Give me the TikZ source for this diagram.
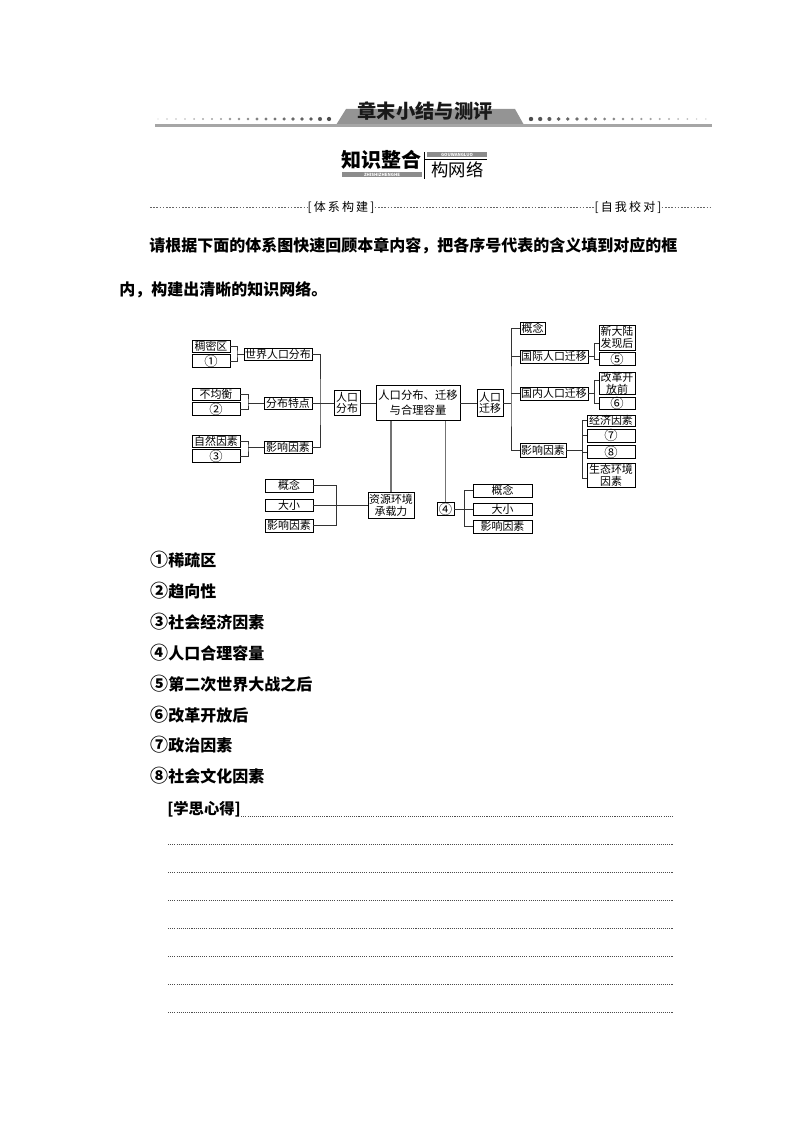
\documentclass[tikz,border=0pt]{standalone}
\usepackage{fontspec}
\setmainfont{Noto Sans CJK SC}
\newfontfamily\cjkls[LetterSpace=18]{Noto Sans CJK SC}
\usetikzlibrary{calc}
\newcommand{\cnum}[1]{{\fontsize{10}{10}\selectfont #1}}
\newcommand{\lnum}[1]{{\fontsize{13.5}{14}\selectfont #1}}
\tikzset{
  bx/.style={draw=black, line width=0.6pt, inner sep=0pt, align=center, font=\fontsize{8.2}{8.8}\selectfont},
  sz/.style n args={2}{minimum width=#1*0.75pt, minimum height=#2*0.75pt},
  ln/.style={draw=black!80, line width=0.6pt},
  vl/.style={draw=black!55, line width=0.8pt},
  dotline/.style={draw=black!70, line width=0.5pt, dash pattern=on 0.8pt off 0.8pt},
  dashline/.style={draw=black!60, line width=0.4pt, dash pattern=on 1.2pt off 1.2pt},
  para/.style={anchor=west, inner sep=0pt, font=\bfseries\fontsize{12}{14}\selectfont},
}
\begin{document}
\begin{tikzpicture}[x=0.75pt,y=-0.75pt]
\useasboundingbox (0,0) rectangle (794,1123);
% ---------- header ----------
\foreach \i in {0,...,19}{
  \pgfmathsetmacro\r{0.7+0.075*\i}
  \pgfmathsetmacro\c{20+2.6*\i}
  \fill[black!\c] (158+9*\i,119) circle[radius=\r];
  \pgfmathsetmacro\rr{2.2-0.075*\i}
  \pgfmathsetmacro\cc{70-2.6*\i}
  \fill[black!\cc] (531+9.2*\i,119) circle[radius=\rr];
}
\fill[black!42] (336,125) -- (346,109) -- (515,109) -- (524,125) -- cycle;
\draw[black!35, line width=2pt] (155,125.5) -- (712,125.5);
\node[font=\bfseries\fontsize{14.5}{16}\selectfont, text=black!90] (title) at (425,111) {章末小结与测评};
% logo
\node[inner sep=0pt, font=\bfseries\fontsize{15}{16}\selectfont] (zszh) at (381,160) {知识整合};
\fill[black!45] (342,172) rectangle (422,177.5);
\node[inner sep=0pt, text=white, font=\bfseries\fontsize{3.2}{4}\selectfont] (zsen) at (382,174.8) {ZHISHIZHENGHE};
\draw[line width=0.6pt] (424,152) -- (424,179.5);
\fill[black!45] (427,152.5) rectangle (487,157.5);
\node[inner sep=0pt, text=white, font=\bfseries\fontsize{3.2}{4}\selectfont] (gwen) at (457,155) {GOUWANGLUO};
\draw[line width=0.5pt] (424,159.5) -- (487,159.5);
\node[inner sep=0pt, font=\fontsize{13}{14}\selectfont] (gwl) at (457.5,170) {构网络};
% dashed row
\node[inner sep=0pt, font=\cjkls\fontsize{9}{10}\selectfont] (txgj) at (341,207) {[体系构建]};
\node[inner sep=0pt, font=\cjkls\fontsize{9}{10}\selectfont] (zwjd) at (628,207) {[自我校对]};
\draw[dashline] (150,207) -- (txgj.west);
\draw[dashline] (txgj.east) -- (zwjd.west);
\draw[dashline] (zwjd.east) -- (712,207);
% paragraph
\node[para] (p1) at (149,246) {请根据下面的体系图快速回顾本章内容，把各序号代表的含义填到对应的框};
\node[para] (p2) at (119,290) {内，构建出清晰的知识网络。};
% ---------- diagram ----------
% left
\node[bx, sz={38}{12}] (cmq) at (211,346) {稠密区};
\node[bx, sz={38}{12}] (q1) at (211,361) {\cnum{①}};
\node[bx, sz={68}{12}] (sjrk) at (278,354) {世界人口分布};
\node[bx, sz={48}{12}] (bjh) at (216,394) {不均衡};
\node[bx, sz={48}{12}] (q2) at (216,409) {\cnum{②}};
\node[bx, sz={48}{12}] (fbtd) at (288,403) {分布特点};
\node[bx, sz={48}{12}] (zryz) at (216,441) {自然因素};
\node[bx, sz={48}{13}] (q3) at (216,456) {\cnum{③}};
\node[bx, sz={48}{12}] (yxL) at (288,447) {影响因素};
\node[bx, sz={26}{25}] (rkfb) at (347,403) {人口\\分布};
\node[bx, sz={84}{35}, font=\fontsize{8.5}{11.5}\selectfont] (main) at (418,403) {人口分布、迁移\\与合理容量};
\node[bx, sz={26}{27}] (rkqy) at (490,403) {人口\\迁移};
% right
\node[bx, sz={25}{12}] (gn1) at (532.5,328) {概念};
\node[bx, sz={68}{13}] (gjqy) at (554,356.5) {国际人口迁移};
\node[bx, sz={36}{25}] (xdl) at (617,337.5) {新大陆\\发现后};
\node[bx, sz={36}{12}] (q5) at (617,359) {\cnum{⑤}};
\node[bx, sz={68}{13}] (gnqy) at (554,393.5) {国内人口迁移};
\node[bx, sz={36}{22}] (ggkf) at (617,383) {改革开\\放前};
\node[bx, sz={36}{11}] (q6) at (617,403.5) {\cnum{⑥}};
\node[bx, sz={46}{14}] (yxR) at (543,450) {影响因素};
\node[bx, sz={48}{11}] (jjys) at (611,420.5) {经济因素};
\node[bx, sz={48}{13}] (q7) at (611,435.5) {\cnum{⑦}};
\node[bx, sz={48}{12}] (q8) at (611,452) {\cnum{⑧}};
\node[bx, sz={48}{24}] (sths) at (611,475) {生态环境\\因素};
% bottom
\node[bx, sz={46}{26}] (zy) at (391,505) {资源环境\\承载力};
\node[bx, sz={48}{13}] (gnL) at (289,485.5) {概念};
\node[bx, sz={48}{12}] (dxL) at (289,505) {大小};
\node[bx, sz={48}{13}] (yxL2) at (289,525.5) {影响因素};
\node[bx, sz={17}{12}] (q4) at (445.5,509) {\cnum{④}};
\node[bx, sz={59}{13}] (gnR) at (502.5,490.5) {概念};
\node[bx, sz={59}{12}] (dxR) at (502.5,509) {大小};
\node[bx, sz={59}{13}] (yxR2) at (502.5,526.5) {影响因素};
% connectors left
\coordinate (b1) at (237,354);
\draw[ln] (cmq.east) -| (b1) |- (q1.east);
\draw[ln] (b1) -- (sjrk.west);
\coordinate (b2) at (248,403);
\draw[ln] (bjh.east) -| (b2) |- (q2.east);
\draw[ln] (b2) -- (fbtd.west);
\coordinate (b3) at (248,447);
\draw[ln] (zryz.east) -| (b3) |- (q3.east);
\draw[ln] (b3) -- (yxL.west);
\coordinate (J) at (320,403);
\draw[ln] (sjrk.east) -| (J) |- (yxL.east);
\draw[ln] (fbtd.east) -- (rkfb.west);
\draw[ln] (rkfb.east) -- (main.west);
\draw[ln] (main.east) -- (rkqy.west);
% connectors right
\coordinate (R) at (511,403);
\draw[ln] (rkqy.east) -- (R);
\draw[ln] (gn1.west) -| (R) |- (yxR.west);
\draw[ln] (gjqy.west) -- (gjqy.west -| R);
\draw[ln] (gnqy.west) -- (gnqy.west -| R);
\coordinate (c1) at (594,356.5);
\coordinate (c1t) at (594,343);
\draw[ln] (gjqy.east) -- (c1);
\draw[ln] (c1t -| xdl.west) -- (c1t) |- (q5.west);
\coordinate (c2) at (594,393.5);
\coordinate (c2t) at (594,380);
\draw[ln] (gnqy.east) -- (c2);
\draw[ln] (c2t -| ggkf.west) -- (c2t) |- (q6.west);
\coordinate (c3a) at (582,420.5);
\coordinate (c3b) at (582,478);
\draw[ln] (jjys.west) -- (c3a) -- (c3b) -- (c3b -| sths.west);
\draw[ln] (q7.west) -- (q7.west -| c3a);
\draw[ln] (q8.west) -- (q8.west -| c3a);
\draw[ln] (yxR.east) -- (yxR.east -| c3a);
% connectors bottom
\draw[vl] (main.south -| zy.north) -- (zy.north);
\draw[vl] (main.south -| q4.north) -- (q4.north);
\coordinate (dt) at (336,485.5);
\coordinate (db) at (336,525.5);
\draw[ln] (gnL.east) -- (dt) -- (db) -- (yxL2.east);
\draw[ln] (dxL.east) -- (zy.west);
\coordinate (et) at (464,490.5);
\coordinate (eb) at (464,526.5);
\draw[ln] (gnR.west) -- (et) -- (eb) -- (yxR2.west);
\draw[ln] (q4.east) -- (dxR.west);
% ---------- answers ----------
\node[para] (a1) at (150,560) {\lnum{①}稀疏区};
\node[para] (a2) at (150,591) {\lnum{②}趋向性};
\node[para] (a3) at (150,622) {\lnum{③}社会经济因素};
\node[para] (a4) at (150,653) {\lnum{④}人口合理容量};
\node[para] (a5) at (150,684) {\lnum{⑤}第二次世界大战之后};
\node[para] (a6) at (150,715) {\lnum{⑥}改革开放后};
\node[para] (a7) at (150,745) {\lnum{⑦}政治因素};
\node[para] (a8) at (150,776) {\lnum{⑧}社会文化因素};
% ---------- notes ----------
\node[anchor=west, inner sep=0pt, font=\bfseries\fontsize{11.5}{13}\selectfont] (xsxd) at (167,809) {[学思心得]};
\draw[dotline] (xsxd.east |- 0,816) -- (673,816);
\foreach \k in {1,...,7}{
  \draw[dotline] (168,816+28*\k) -- (673,816+28*\k);
}
\end{tikzpicture}
\end{document}
